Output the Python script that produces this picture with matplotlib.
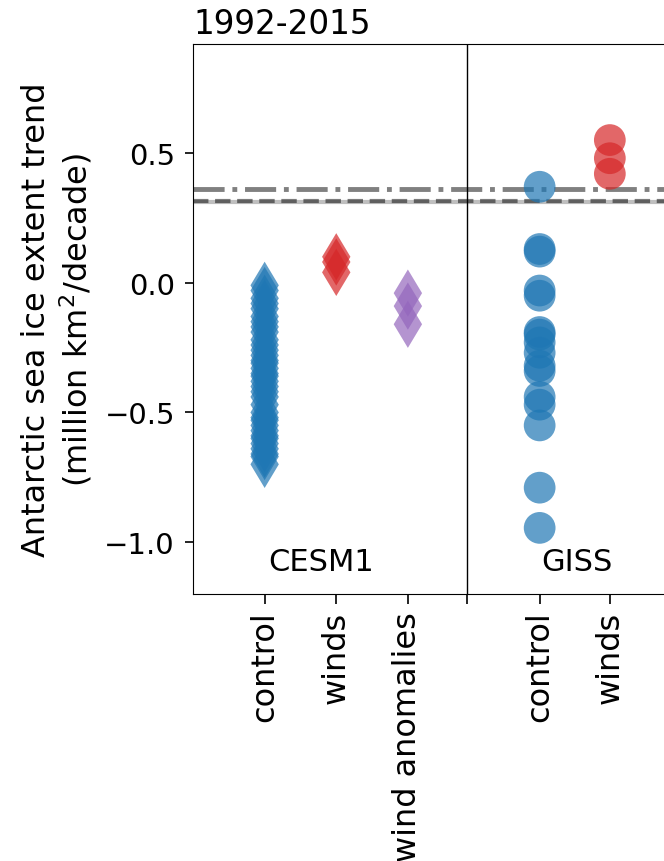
import matplotlib
matplotlib.use("Agg")
import matplotlib.pyplot as plt

# trends in million km^2/decade
cesm_control = [-0.01, -0.03, -0.06, -0.08, -0.1, -0.13, -0.15, -0.17, -0.19, -0.22,
                -0.24, -0.26, -0.28, -0.3, -0.31, -0.33, -0.35, -0.36, -0.38, -0.4,
                -0.42, -0.44, -0.47, -0.5, -0.52, -0.53, -0.55, -0.57, -0.59, -0.6,
                -0.62, -0.64, -0.66, -0.67, -0.7]
cesm_winds = [0.10, 0.08, 0.04]
cesm_wind_anom = [-0.04, -0.09, -0.16]
giss_control = [0.37, 0.13, 0.12, -0.03, -0.05, -0.19, -0.2, -0.23, -0.27, -0.32,
                -0.34, -0.44, -0.47, -0.55, -0.79, -0.945]
giss_winds = [0.55, 0.48, 0.42]

obs_a = 0.362   # dash-dot
obs_b = 0.314   # dashed
obs_c = 0.31    # solid

tick_pos = [1, 2, 3, 3.83, 4.84, 5.82]
tick_labels = ['control', 'winds', 'wind anomalies', '', 'control', 'winds']

fig = plt.figure(figsize=(6.64, 8.62), dpi=100)
ax = fig.add_axes([0.2907, 0.3097, 0.755, 0.638])

ax.axhline(obs_a, color='gray', ls='-.', lw=3.5)
ax.axhline(obs_c, color='gray', ls='-', lw=3, alpha=0.5)
ax.axhline(obs_b, color='k', ls='--', lw=3, alpha=0.5)

s = 580
ax.scatter([tick_pos[0]] * len(cesm_control), cesm_control, s=s, marker='d',
           color='tab:blue', alpha=0.7, edgecolors='none', zorder=3)
ax.scatter([tick_pos[1]] * len(cesm_winds), cesm_winds, s=s, marker='d',
           color='tab:red', alpha=0.7, edgecolors='none', zorder=3)
ax.scatter([tick_pos[2]] * len(cesm_wind_anom), cesm_wind_anom, s=s, marker='d',
           color='tab:purple', alpha=0.7, edgecolors='none', zorder=3)
ax.scatter([tick_pos[4]] * len(giss_control), giss_control, s=s * 0.9, marker='o',
           color='tab:blue', alpha=0.7, edgecolors='none', zorder=3)
ax.scatter([tick_pos[5]] * len(giss_winds), giss_winds, s=s * 0.9, marker='o',
           color='tab:red', alpha=0.7, edgecolors='none', zorder=3)

ax.axvline(tick_pos[3], color='k', lw=1)

ax.text(1.79, -1.075, 'CESM1', ha='center', va='center', fontsize=22)
ax.text(5.36, -1.075, 'GISS', ha='center', va='center', fontsize=22)

ax.set_xlim(0, 7)
ax.set_ylim(-1.2, 0.92)
ax.set_yticks([-1.0, -0.5, 0.0, 0.5])
ax.set_xticks(tick_pos)
ax.set_xticklabels(tick_labels, rotation=90, fontsize=23)
ax.tick_params(axis='y', labelsize=21, length=6, width=1.2, pad=7)
ax.tick_params(axis='x', length=7, width=1.2, pad=5)
ax.set_ylabel('Antarctic sea ice extent trend\n(million km$^2$/decade)',
              fontsize=23, labelpad=7)
ax.set_title('1992-2015', loc='left', pad=8, fontsize=23.5)

fig.savefig('out.png', dpi=100)
